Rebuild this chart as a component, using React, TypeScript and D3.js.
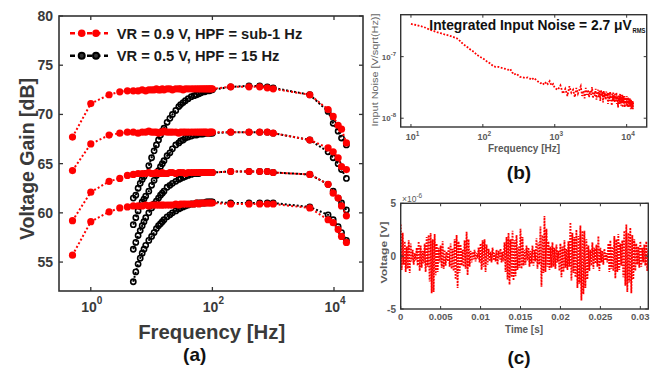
import React from "react";
import * as d3 from "d3";

// ---------- (a) Voltage gain vs frequency ----------
const redFreqs = [0.5, 1, 2, 3, 4, 5, 6, 7, 8, 9, 10, 11, 12, 13, 14, 15, 16, 18, 20, 22, 25, 28, 30, 33, 36, 40, 45, 50, 55, 60, 65, 70, 75, 80, 85, 90, 95, 100, 200, 400, 600, 800, 1000, 4000, 8000, 9700, 11700, 13300, 16000];
const redGain1 = [67.7, 71.1, 72.0, 72.3, 72.4, 72.4, 72.4, 72.5, 72.4, 72.5, 72.5, 72.5, 72.6, 72.5, 72.5, 72.6, 72.5, 72.6, 72.6, 72.5, 72.6, 72.6, 72.6, 72.5, 72.6, 72.6, 72.6, 72.6, 72.6, 72.6, 72.6, 72.6, 72.6, 72.6, 72.6, 72.6, 72.6, 72.6, 72.8, 72.8, 72.8, 72.7, 72.6, 72.0, 70.5, 69.8, 68.9, 68.5, 67.1];
const redGain2 = [64.3, 67.0, 67.9, 68.1, 68.2, 68.2, 68.1, 68.2, 68.2, 68.3, 68.2, 68.2, 68.2, 68.1, 68.2, 68.2, 68.3, 68.2, 68.2, 68.2, 68.2, 68.1, 68.2, 68.2, 68.2, 68.2, 68.2, 68.2, 68.2, 68.2, 68.2, 68.2, 68.2, 68.2, 68.1, 68.2, 68.2, 68.2, 68.2, 68.2, 68.2, 68.2, 68.1, 67.4, 66.6, 66.2, 65.6, 64.7, 64.4];
const redGain3 = [59.2, 62.1, 63.2, 63.5, 63.8, 63.9, 64.0, 64.0, 64.0, 64.1, 64.0, 64.0, 64.1, 64.0, 64.0, 64.1, 64.0, 64.0, 64.1, 64.1, 64.0, 64.1, 64.1, 64.1, 64.0, 64.1, 64.1, 64.1, 64.1, 64.1, 64.1, 64.1, 64.1, 64.1, 64.1, 64.1, 64.1, 64.1, 64.2, 64.2, 64.2, 64.2, 64.1, 63.9, 62.9, 62.0, 61.5, 60.7, 59.7];
const redGain4 = [55.7, 59.1, 60.1, 60.5, 60.6, 60.7, 60.7, 60.7, 60.8, 60.7, 60.8, 60.8, 60.8, 60.8, 60.8, 60.8, 60.8, 60.8, 60.8, 60.8, 60.9, 60.8, 60.9, 60.9, 60.9, 60.9, 60.9, 60.9, 61.0, 60.9, 61.0, 61.0, 61.0, 61.0, 61.0, 61.0, 61.0, 61.0, 60.9, 60.9, 60.9, 60.9, 60.9, 60.5, 59.3, 59.0, 58.3, 57.6, 57.0];

const blackFreqs = [5, 5.5, 6, 6.5, 7, 7.5, 8, 9, 10, 11, 12, 13, 14, 15, 16, 18, 20, 22, 25, 28, 30, 33, 36, 40, 45, 50, 55, 60, 65, 70, 75, 80, 85, 90, 95, 100, 200, 400, 600, 800, 1000, 4000, 8000, 9700, 11700, 13300, 16000];
const blackGain1 = [61.5, 61.8, 62.5, 63.0, 63.4, 63.7, 64.0, 64.8, 65.6, 66.3, 66.9, 67.4, 67.9, 68.3, 68.6, 69.2, 69.6, 70.0, 70.4, 70.8, 71.0, 71.2, 71.4, 71.6, 71.8, 71.9, 72.0, 72.1, 72.2, 72.3, 72.3, 72.4, 72.4, 72.4, 72.5, 72.5, 72.8, 72.9, 72.9, 72.8, 72.7, 72.0, 70.3, 69.1, 68.3, 67.6, 66.9];
const blackGain2 = [58.8, 59.5, 60.2, 60.7, 61.1, 61.4, 61.7, 62.2, 62.8, 63.3, 63.8, 64.3, 64.7, 65.0, 65.3, 65.8, 66.1, 66.5, 66.9, 67.1, 67.3, 67.4, 67.6, 67.7, 67.8, 67.9, 67.9, 68.0, 68.0, 68.0, 68.1, 68.1, 68.1, 68.1, 68.1, 68.1, 68.2, 68.2, 68.2, 68.2, 68.1, 67.4, 66.2, 65.6, 65.0, 64.4, 63.5];
const blackGain3 = [56.3, 57.0, 57.7, 58.2, 58.7, 59.1, 59.5, 60.0, 60.5, 60.9, 61.2, 61.5, 61.8, 62.0, 62.2, 62.6, 62.8, 63.0, 63.2, 63.4, 63.5, 63.6, 63.7, 63.8, 63.9, 64.0, 64.0, 64.0, 64.1, 64.1, 64.1, 64.1, 64.1, 64.1, 64.1, 64.1, 64.2, 64.2, 64.2, 64.2, 64.1, 63.9, 62.9, 62.2, 61.5, 61.0, 60.3];
const blackGain4 = [53.0, 54.0, 54.8, 55.4, 55.9, 56.3, 56.7, 57.2, 57.6, 58.0, 58.4, 58.7, 58.9, 59.1, 59.3, 59.6, 59.8, 60.0, 60.2, 60.4, 60.5, 60.6, 60.7, 60.8, 60.9, 60.9, 61.0, 61.0, 61.0, 61.0, 61.0, 61.1, 61.1, 61.1, 61.1, 61.1, 61.0, 61.0, 61.0, 61.0, 61.0, 60.6, 59.8, 59.3, 58.6, 58.0, 57.2];

const gainTicks = [55, 60, 65, 70, 75, 80];
const freqTicksA = [1, 100, 10000];
const freqTickExpA = ["0", "2", "4"];
const legendLabels = ["VR = 0.9 V, HPF = sub-1 Hz", "VR = 0.5 V, HPF = 15 Hz"];

// ---------- (b) Input noise spectrum ----------
const noiseLowFreqs = [10, 12, 14, 16, 18, 20, 23, 26, 30, 34, 38, 43, 48, 53, 60, 67, 75, 82, 90, 100, 113, 125, 140, 150, 165, 180, 195, 210, 225, 240, 255, 270, 290, 310, 330, 360, 390, 420, 450, 480, 510, 550, 590, 630, 670, 710, 760, 800, 850, 900, 950, 1000];
const noiseLowVals = [3.4e-7, 3.25e-7, 3.1e-7, 2.95e-7, 2.75e-7, 2.65e-7, 2.5e-7, 2.4e-7, 2.28e-7, 2.2e-7, 2.1e-7, 2.0e-7, 1.8e-7, 1.6e-7, 1.45e-7, 1.3e-7, 1.2e-7, 1.08e-7, 1.0e-7, 9.4e-8, 8.4e-8, 7.8e-8, 7.0e-8, 6.8e-8, 6.8e-8, 6.6e-8, 6.4e-8, 6.3e-8, 6.1e-8, 6.3e-8, 5.6e-8, 5.1e-8, 5.3e-8, 5.0e-8, 4.7e-8, 4.6e-8, 4.5e-8, 4.6e-8, 4.4e-8, 4.2e-8, 4.5e-8, 4.2e-8, 3.9e-8, 3.7e-8, 3.8e-8, 3.5e-8, 3.9e-8, 3.6e-8, 4.0e-8, 3.4e-8, 3.6e-8, 3.1e-8];
const noiseHfStartHz = 1100;
const noiseHfStepHz = 100;
// values in units of 1e-8 V/sqrt(Hz), from 1100 Hz to 12300 Hz
const noiseHfVals = [
  2.9, 3.4, 2.5, 3.0, 2.3, 3.3, 2.6, 2.9, 2.2, 3.1,
  2.5, 2.9, 3.3, 2.3, 2.8, 2.1, 3.1, 2.4, 2.9, 2.2,
  2.8, 2.4, 3.2, 2.1, 2.7, 2.3, 3.0, 2.0, 2.6, 2.9,
  2.2, 2.8, 1.9, 2.9, 2.3, 2.7, 1.8, 2.8, 2.2, 2.6,
  2.0, 2.7, 2.1, 2.6, 1.7, 2.6, 2.2, 1.9, 2.7, 2.1,
  2.5, 1.6, 2.5, 2.0, 2.6, 1.9, 2.4, 1.8, 2.5, 2.1,
  1.9, 2.6, 1.7, 2.3, 2.0, 1.5, 2.4, 1.9, 2.3, 1.7,
  2.5, 1.8, 2.2, 1.6, 2.4, 1.9, 2.4, 1.5, 2.1, 1.8,
  2.3, 1.7, 2.3, 1.5, 2.0, 2.2, 1.6, 2.2, 1.8, 2.3,
  1.6, 2.1, 1.5, 2.2, 1.8, 1.5, 2.1, 1.7, 2.0, 1.5,
  2.1, 1.6, 1.9, 1.4, 2.0, 1.7, 1.4, 1.9, 1.6, 1.5,
  1.9, 1.4, 1.8,
];
const noiseYTicks = [1e-7, 1e-8];
const noiseYTickExp = ["-7", "-8"];
const noiseXTicks = [10, 100, 1000, 10000];
const noiseXTickExp = ["1", "2", "3", "4"];

// ---------- (c) Time-domain noise ----------
const timeStep = 0.000125; // s
// values in microvolts
const voltageUv = [
  3.0, -1.3, 2.2, -0.8, 1.4, -1.5, 0.9, -1.2,
  1.5, -1.6, 1.2, -0.5, 0.6, -0.8, 0.3, -0.4,
  0.8, -0.9, 1.4, -1.4, 1.0, -1.1, 0.5, -0.7,
  1.2, -1.5, 1.8, -1.0, 2.0, -2.4, 2.2, -3.5,
  1.6, -3.4, 2.1, -1.8, 1.2, -1.5, 0.8, -0.6,
  1.0, -1.1, 1.4, -1.2, 0.6, -0.9, 0.4, -0.5,
  0.9, -1.0, 1.2, -1.2, 0.7, -1.4, 1.6, -2.2,
  2.0, -3.0, 1.4, -1.6, 1.1, -0.9, 0.6, -1.0,
  1.5, -1.2, 2.3, -1.8, 1.6, -1.0, 0.5, -0.6,
  0.4, -0.3, 0.6, -0.5, 0.3, -0.2, 0.8, -0.6,
  1.2, -1.3, 1.5, -1.0, 1.6, -1.5, 1.1, -0.8,
  0.7, -0.5, 0.4, -0.6, 0.8, -0.4, 0.3, -0.5,
  0.6, -0.8, 0.5, -0.3, 0.7, -0.6, 0.4, -0.5,
  1.3, -1.5, 1.8, -2.2, 2.2, -2.7, 1.6, -2.0,
  2.4, -2.3, 1.5, -1.9, 2.0, -1.3, 0.9, -1.1,
  2.6, -1.2, 1.8, -0.9, 0.6, -0.8, 1.0, -0.4,
  0.8, -1.0, 0.5, -0.7, 1.0, -0.9, 0.6, -0.5,
  1.7, -1.2, 1.3, -0.8, 2.8, -2.9, 2.0, -1.6,
  3.8, -1.5, 2.6, -1.0, 1.4, -1.3, 0.9, -1.1,
  1.3, -1.0, 0.8, -1.2, 1.1, -0.6, 0.5, -1.4,
  1.2, -2.0, 0.9, -1.5, 1.5, -1.1, 0.7, -1.3,
  1.4, -1.0, 3.2, -2.3, 2.2, -1.6, 1.8, -2.0,
  2.5, -3.0, 1.9, -2.6, 2.9, -4.2, 2.4, -3.6,
  2.4, -3.0, 1.6, -2.2, 1.0, -1.4, 0.6, -0.9,
  1.3, -1.2, 0.8, -0.7, 1.1, -1.0, 1.9, -1.4,
  0.8, -0.6, 0.5, -0.8, 0.7, -0.4, 0.3, -0.6,
  1.2, -1.5, 1.5, -1.2, 0.9, -1.4, 1.9, -2.1,
  1.6, -1.5, 2.1, -1.3, 1.2, -0.9, 1.5, -2.0,
  2.4, -2.8, 3.0, -3.4, 2.2, -2.5, 2.7, -3.5,
  2.0, -2.2, 1.6, -1.4, 1.2, -0.8, 0.9, -1.1,
  1.4, -1.0, 0.8, -0.6, 1.1, -0.9, 1.4, -1.4,
  0.6,
];
const timeTicks = [0, 0.005, 0.01, 0.015, 0.02, 0.025, 0.03];
const timeTickLabels = ["0", "0.005", "0.01", "0.015", "0.02", "0.025", "0.03"];
const voltTicks = [-5, 0, 5];

const FONT = "'Liberation Sans', Arial, Helvetica, sans-serif";

export default function App() {
  // scales (a)
  const xA = d3.scaleLog().domain([0.3, 3e4]).range([59, 363]);
  const yA = d3.scaleLinear().domain([52.06, 80]).range([291, 16]);
  // scales (b)
  const xB = d3.scaleLog().domain([7.2, 1.9e4]).range([400.7, 646.7]);
  const yB = d3.scaleLog().domain([7.2e-9, 4.8e-7]).range([127, 14.7]);
  // scales (c)
  const xC = d3.scaleLinear().domain([0, 0.031]).range([400.7, 648.3]);
  const yC = d3.scaleLinear().domain([-5, 5]).range([309, 203.3]);

  const lineA = d3.line<[number, number]>().x((d) => xA(d[0])).y((d) => yA(d[1]));
  const redSeries = [redGain1, redGain2, redGain3, redGain4].map((g) => redFreqs.map((f, i) => [f, g[i]] as [number, number]));
  const blackSeries = [blackGain1, blackGain2, blackGain3, blackGain4].map((g) => blackFreqs.map((f, i) => [f, g[i]] as [number, number]));

  const noisePts: [number, number][] = [
    ...noiseLowFreqs.map((f, i) => [f, noiseLowVals[i]] as [number, number]),
    ...noiseHfVals.map((v, i) => [noiseHfStartHz + i * noiseHfStepHz, v * 1e-8] as [number, number]),
  ];
  const lineB = d3.line<[number, number]>().x((d) => xB(d[0])).y((d) => yB(d[1]));

  const timePts: [number, number][] = voltageUv.map((v, i) => [i * timeStep, v]);
  const lineC = d3.line<[number, number]>().x((d) => xC(d[0])).y((d) => yC(d[1]));

  const axA = "#333";
  const txA = "#3a3a3a";
  const txB = "#5a5a5a";

  return (
    <svg width={656} height={371} style={{ position: "absolute", left: 0, top: 0, background: "#fff" }} fontFamily={FONT}>
      <rect x={0} y={0} width={656} height={371} fill="#fff" />

      {/* ================= (a) ================= */}
      <defs>
        <clipPath id="clipA">
          <rect x={59} y={16} width={304} height={275} />
        </clipPath>
      </defs>
      <g clipPath="url(#clipA)">
        {blackSeries.map((s, k) => (
          <g key={"b" + k}>
            <path d={lineA(s) || ""} fill="none" stroke="#000" strokeWidth={2} strokeDasharray="2,2" />
            {s.map((d, i) => (
              <circle key={i} cx={xA(d[0])} cy={yA(d[1])} r={2.6} fill="none" stroke="#000" strokeWidth={1.6} />
            ))}
          </g>
        ))}
        {redSeries.map((s, k) => (
          <g key={"r" + k}>
            <path d={lineA(s) || ""} fill="none" stroke="#ff0000" strokeWidth={2} strokeDasharray="2,2.2" />
            {s.map((d, i) => (
              <circle key={i} cx={xA(d[0])} cy={yA(d[1])} r={3.6} fill="#ff0000" />
            ))}
          </g>
        ))}
      </g>
      {/* axes box a */}
      <rect x={59} y={16} width={304} height={275} fill="none" stroke={axA} strokeWidth={1.6} />
      {gainTicks.map((t) => (
        <g key={"gy" + t}>
          <line x1={59} x2={63} y1={yA(t)} y2={yA(t)} stroke={axA} strokeWidth={1.3} />
          <line x1={363} x2={359} y1={yA(t)} y2={yA(t)} stroke={axA} strokeWidth={1.3} />
          <text x={53} y={yA(t) + 5} textAnchor="end" fontSize={14} fontWeight="bold" fill={txA}>{t}</text>
        </g>
      ))}
      {freqTicksA.map((t, i) => (
        <g key={"gx" + t}>
          <line x1={xA(t)} x2={xA(t)} y1={291} y2={287} stroke={axA} strokeWidth={1.3} />
          <line x1={xA(t)} x2={xA(t)} y1={16} y2={20} stroke={axA} strokeWidth={1.3} />
          <text x={xA(t) + 1} y={311.5} textAnchor="middle" fontSize={14} fontWeight="bold" fill={txA}>
            10<tspan dy={-8} fontSize={10}>{freqTickExpA[i]}</tspan>
          </text>
        </g>
      ))}
      <text x={211.7} y={339.3} textAnchor="middle" fontSize={20} fontWeight="bold" fill={txA} textLength={147} lengthAdjust="spacingAndGlyphs">Frequency [Hz]</text>
      <text transform="translate(34,159) rotate(-90)" textAnchor="middle" fontSize={20} fontWeight="bold" fill={txA} textLength={162} lengthAdjust="spacingAndGlyphs">Voltage Gain [dB]</text>
      <text x={194.7} y={361} textAnchor="middle" fontSize={19} fontWeight="bold" fill="#111">(a)</text>

      {/* legend */}
      <line x1={70} x2={108} y1={33.3} y2={33.3} stroke="#ff0000" strokeWidth={2.5} strokeDasharray="5,3.5" />
      <circle cx={81.7} cy={33.3} r={3.8} fill="#ff0000" />
      <circle cx={96} cy={33.3} r={3.8} fill="#ff0000" />
      <text x={116.7} y={38.5} fontSize={14.7} fontWeight="bold" fill="#1a1a1a">{legendLabels[0]}</text>
      <line x1={70} x2={108} y1={55.7} y2={55.7} stroke="#000" strokeWidth={2.5} strokeDasharray="5,3.5" />
      <circle cx={81.7} cy={55.7} r={3} fill="#333" stroke="#000" strokeWidth={2} />
      <circle cx={96} cy={55.7} r={3} fill="#333" stroke="#000" strokeWidth={2} />
      <text x={116.7} y={60.7} fontSize={14.7} fontWeight="bold" fill="#1a1a1a">{legendLabels[1]}</text>

      {/* ================= (b) ================= */}
      <path d={lineB(noisePts) || ""} fill="none" stroke="#ff0000" strokeWidth={1.8} strokeDasharray="1.8,1.6" />
      <rect x={400.7} y={14.7} width={246} height={112.3} fill="none" stroke="#333" strokeWidth={1.4} />
      {noiseYTicks.map((t, i) => (
        <g key={"ny" + i}>
          <line x1={400.7} x2={403.7} y1={yB(t)} y2={yB(t)} stroke="#333" strokeWidth={1} />
          <line x1={646.7} x2={643.7} y1={yB(t)} y2={yB(t)} stroke="#333" strokeWidth={1} />
          <text x={396} y={yB(t) + 3} textAnchor="end" fontSize={8} fontWeight="bold" fill={txB}>
            10<tspan dy={-4} fontSize={6}>{noiseYTickExp[i]}</tspan>
          </text>
        </g>
      ))}
      {noiseXTicks.map((t, i) => (
        <g key={"nx" + i}>
          <line x1={xB(t)} x2={xB(t)} y1={127} y2={124} stroke="#333" strokeWidth={1} />
          <line x1={xB(t)} x2={xB(t)} y1={14.7} y2={17.7} stroke="#333" strokeWidth={1} />
          <text x={xB(t) + 1.5} y={140} textAnchor="middle" fontSize={9} fontWeight="bold" fill={txB}>
            10<tspan dy={-4.5} fontSize={6.5}>{noiseXTickExp[i]}</tspan>
          </text>
        </g>
      ))}
      <text x={524} y={151.7} textAnchor="middle" fontSize={10} fontWeight="bold" fill={txB} textLength={72} lengthAdjust="spacingAndGlyphs">Frequency [Hz]</text>
      <text transform="translate(378,70) rotate(-90)" textAnchor="middle" fontSize={9.5} fill="#666" textLength={113} lengthAdjust="spacingAndGlyphs">Input Noise [V/sqrt(Hz)]</text>
      <text x={429.3} y={30} fontSize={13.8} fontWeight="bold" fill="#111" textLength={202.4} lengthAdjust="spacingAndGlyphs">Integrated Input Noise = 2.7 μV</text>
      <text x={632.5} y={33} fontSize={7} fontWeight="bold" fill="#111" textLength={13} lengthAdjust="spacingAndGlyphs">RMS</text>
      <text x={519} y={179} textAnchor="middle" fontSize={19} fontWeight="bold" fill="#111">(b)</text>

      {/* ================= (c) ================= */}
      <defs>
        <clipPath id="clipC">
          <rect x={400.7} y={203.3} width={247.6} height={105.7} />
        </clipPath>
      </defs>
      <g clipPath="url(#clipC)">
        <path d={lineC(timePts) || ""} fill="none" stroke="#ff0000" strokeWidth={1.8} strokeDasharray="1.8,1.2" />
      </g>
      <rect x={400.7} y={203.3} width={247.6} height={105.7} fill="none" stroke="#333" strokeWidth={1.4} />
      {voltTicks.map((t) => (
        <g key={"vy" + t}>
          <line x1={400.7} x2={403.7} y1={yC(t)} y2={yC(t)} stroke="#333" strokeWidth={1} />
          <line x1={648.3} x2={645.3} y1={yC(t)} y2={yC(t)} stroke="#333" strokeWidth={1} />
          <text x={396} y={yC(t) + 3.5} textAnchor="end" fontSize={10} fontWeight="bold" fill={txB}>{t}</text>
        </g>
      ))}
      {timeTicks.map((t, i) => (
        <g key={"tx" + i}>
          <line x1={xC(t)} x2={xC(t)} y1={309} y2={306} stroke="#333" strokeWidth={1} />
          <line x1={xC(t)} x2={xC(t)} y1={203.3} y2={206.3} stroke="#333" strokeWidth={1} />
          <text x={xC(t)} y={320} textAnchor="middle" fontSize={9.5} fontWeight="bold" fill={txB}>{timeTickLabels[i]}</text>
        </g>
      ))}
      <text x={402} y={202} fontSize={8.5} fill={txB}>
        ×10<tspan dy={-4} fontSize={6.5}>-6</tspan>
      </text>
      <text x={524} y={332.5} textAnchor="middle" fontSize={10} fontWeight="bold" fill={txB} textLength={38} lengthAdjust="spacingAndGlyphs">Time [s]</text>
      <text transform="translate(387,252.5) rotate(-90)" textAnchor="middle" fontSize={9.5} fontWeight="bold" fill={txB} textLength={62} lengthAdjust="spacingAndGlyphs">Voltage [V]</text>
      <text x={519} y={364} textAnchor="middle" fontSize={19} fontWeight="bold" fill="#111">(c)</text>
    </svg>
  );
}
